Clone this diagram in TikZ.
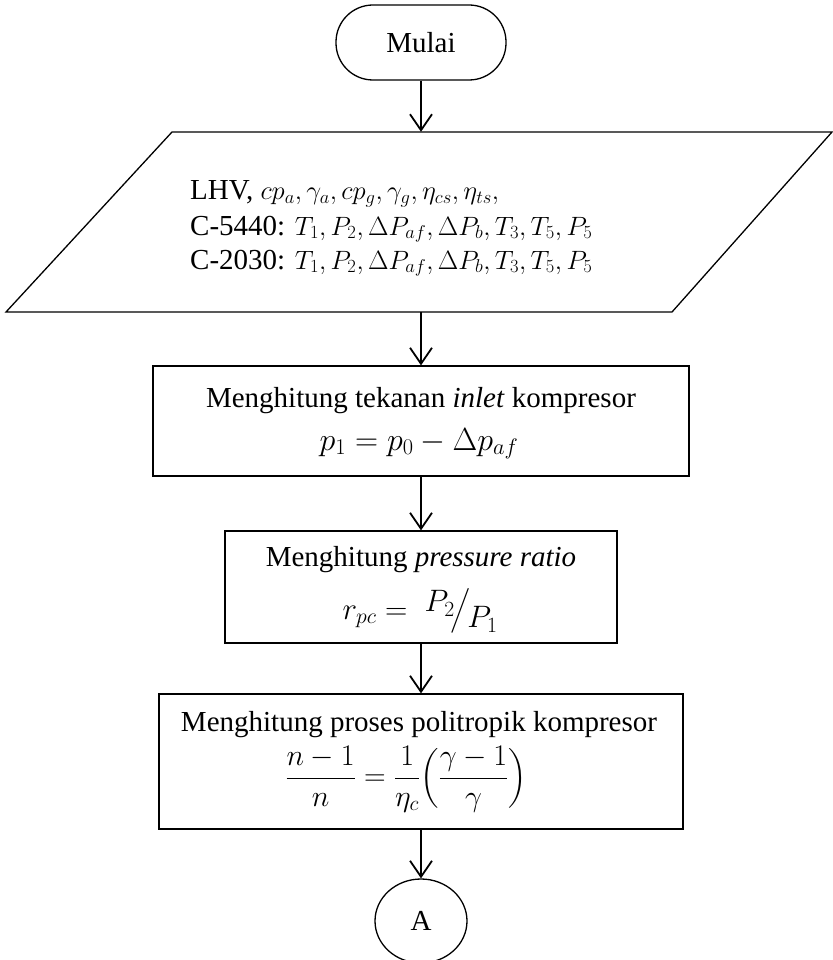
\RequirePackage{fix-cm}
\documentclass[tikz,border=0pt]{standalone}
\usepackage{amsmath}
\usepackage{fontspec}
\setmainfont{Liberation Serif}
\usetikzlibrary{arrows.meta,shapes.geometric}
% math inside the data parallelogram
\newcommand{\fmath}[1]{{\fontsize{26.5}{35}\selectfont$#1$}}
\begin{document}
\begin{tikzpicture}[x=1pt,y=-1pt,
  font=\fontsize{29}{35}\selectfont,
  shapeline/.style={draw=black, line width=1.3pt},
  flow/.style={line width=1.8pt, -{Straight Barb[length=16pt,width=22pt,line width=1.8pt]}},
  procbox/.style={shapeline, rectangle, inner sep=0pt},
  txt/.style={inner sep=0pt, anchor=base},
]
\useasboundingbox (0,0) rectangle (832,960);

% start terminal
\node[shapeline, rounded corners=37pt, minimum width=170pt, minimum height=75pt, inner sep=0pt] (start) at (421,42.5) {Mulai};

% input / data parallelogram
\draw[shapeline] (172,132) -- (832,132) -- (672,312) -- (6,312) -- cycle;
\node[inner sep=0pt, minimum width=10pt, minimum height=180pt] (io) at (421,222) {};
\node[txt, anchor=base west] (io1) at (190,200)
  {LHV, \fmath{cp_a, \gamma_a, cp_g, \gamma_g, \eta_{cs}, \eta_{ts},}};
\node[txt, anchor=base west] (io2) at (190,235)
  {C-5440: \fmath{T_1, P_2, \Delta P_{af}, \Delta P_b, T_3, T_5, P_5}};
\node[txt, anchor=base west] (io3) at (190,269)
  {C-2030: \fmath{T_1, P_2, \Delta P_{af}, \Delta P_b, T_3, T_5, P_5}};

% process 1: inlet pressure
\node[procbox, minimum width=536pt, minimum height=110pt] (b1) at (421,421) {};
\node[txt] (b1a) at (421,407) {Menghitung tekanan \textit{inlet} kompresor};
\node[txt] (b1b) at (419,450) {\fontsize{32}{38}\selectfont $p_1 = p_0 - \Delta p_{af}$};

% process 2: pressure ratio
\node[procbox, minimum width=392pt, minimum height=112pt] (b2) at (421,587) {};
\node[txt] (b2a) at (421,566) {Menghitung \textit{pressure ratio}};
\node[txt] (b2b) at (420,619) {\fontsize{31}{38}\selectfont
  $r_{pc} = \;\raisebox{0.5ex}{$P_2$}\kern-0.12em\big/\kern-0.12em\raisebox{-0.6ex}{$P_1$}$};

% process 3: polytropic process
\node[procbox, minimum width=524pt, minimum height=135pt] (b3) at (421,761.5) {};
\node[txt] (b3a) at (419,731) {Menghitung proses politropik kompresor};
\node[inner sep=0pt] (b3b) at (406,779) {\fontsize{30}{36}\selectfont
  $\dfrac{n-1}{n} = \dfrac{1}{\eta_c}\Bigl(\dfrac{\gamma-1}{\gamma}\Bigr)$};

% connector
\node[shapeline, ellipse, minimum width=92pt, minimum height=84pt, inner sep=0pt] (conA) at (421,921) {A};

% flow lines
\draw[flow] (start.south) -- (io.north);
\draw[flow] (io.south) -- (b1.north);
\draw[flow] (b1.south) -- (b2.north);
\draw[flow] (b2.south) -- (b3.north);
\draw[flow] (b3.south) -- (conA.north);
\end{tikzpicture}
\end{document}
